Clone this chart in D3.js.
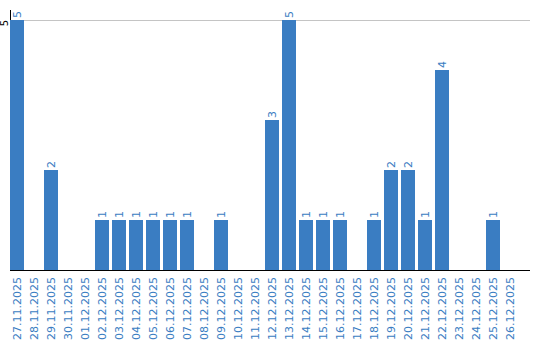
<!DOCTYPE html>
<html>
<head>
<meta charset="utf-8">
<script src="https://cdn.jsdelivr.net/npm/d3@7"></script>
<style>
  body { margin: 0; background: #fff; }
  text { font-family: "DejaVu Sans", Verdana, sans-serif; }
</style>
</head>
<body>
<script>
const width = 540;
const height = 340;

const days = ["27.11.2025","28.11.2025","29.11.2025","30.11.2025","01.12.2025","02.12.2025",
  "03.12.2025","04.12.2025","05.12.2025","06.12.2025","07.12.2025","08.12.2025","09.12.2025",
  "10.12.2025","11.12.2025","12.12.2025","13.12.2025","14.12.2025","15.12.2025","16.12.2025",
  "17.12.2025","18.12.2025","19.12.2025","20.12.2025","21.12.2025","22.12.2025","23.12.2025",
  "24.12.2025","25.12.2025","26.12.2025"];
const counts = [5,0,2,0,0,1,1,1,1,1,1,0,1,0,0,3,5,1,1,1,0,1,2,2,1,4,0,0,1,0];
const yTicks = [5];

const blue = "#3a7dc2";

const svg = d3.select("body").append("svg")
    .attr("width", width)
    .attr("height", height);

const x = d3.scaleBand()
    .domain(days)
    .range([10, 517])
    .paddingInner(3 / 17)
    .paddingOuter(0);

const y = d3.scaleLinear()
    .domain([0, 5])
    .range([270, 20]);

// grid
svg.append("g")
  .selectAll("line")
  .data(yTicks)
  .join("line")
    .attr("x1", 10).attr("x2", 530)
    .attr("y1", d => y(d) + 0.5).attr("y2", d => y(d) + 0.5)
    .attr("stroke", "#c4c4c4");

// y axis line
svg.append("line")
    .attr("x1", 10.5).attr("x2", 10.5)
    .attr("y1", 10).attr("y2", 270)
    .attr("stroke", "#000");

svg.append("g")
  .selectAll("text")
  .data(yTicks)
  .join("text")
    .attr("transform", d => `translate(8,${y(d) + 3}) rotate(-90)`)
    .attr("text-anchor", "middle")
    .attr("font-size", 10)
    .attr("fill", "#000")
    .text(d => d);

// bars
svg.append("g")
    .attr("fill", blue)
  .selectAll("rect")
  .data(days)
  .join("rect")
    .attr("x", d => x(d))
    .attr("width", x.bandwidth())
    .attr("y", (d, i) => y(counts[i]))
    .attr("height", (d, i) => y(0) - y(counts[i]));

// value labels
svg.append("g")
  .selectAll("text")
  .data(days.filter((d, i) => counts[i] > 0))
  .join("text")
    .attr("transform", d => {
      const v = counts[days.indexOf(d)];
      return `translate(${x(d) + x.bandwidth() / 2 + 4},${y(v) - 2}) rotate(-90)`;
    })
    .attr("font-size", 11)
    .attr("fill", blue)
    .text(d => counts[days.indexOf(d)]);

// baseline
svg.append("line")
    .attr("x1", 10).attr("x2", 530)
    .attr("y1", 270.5).attr("y2", 270.5)
    .attr("stroke", "#000");

// x labels
svg.append("g")
  .selectAll("text")
  .data(days)
  .join("text")
    .attr("transform", d => `translate(${x(d) + x.bandwidth() / 2 + 4},277) rotate(-90)`)
    .attr("text-anchor", "end")
    .attr("font-size", 11)
    .attr("fill", blue)
    .text(d => d);
</script>
</body>
</html>
